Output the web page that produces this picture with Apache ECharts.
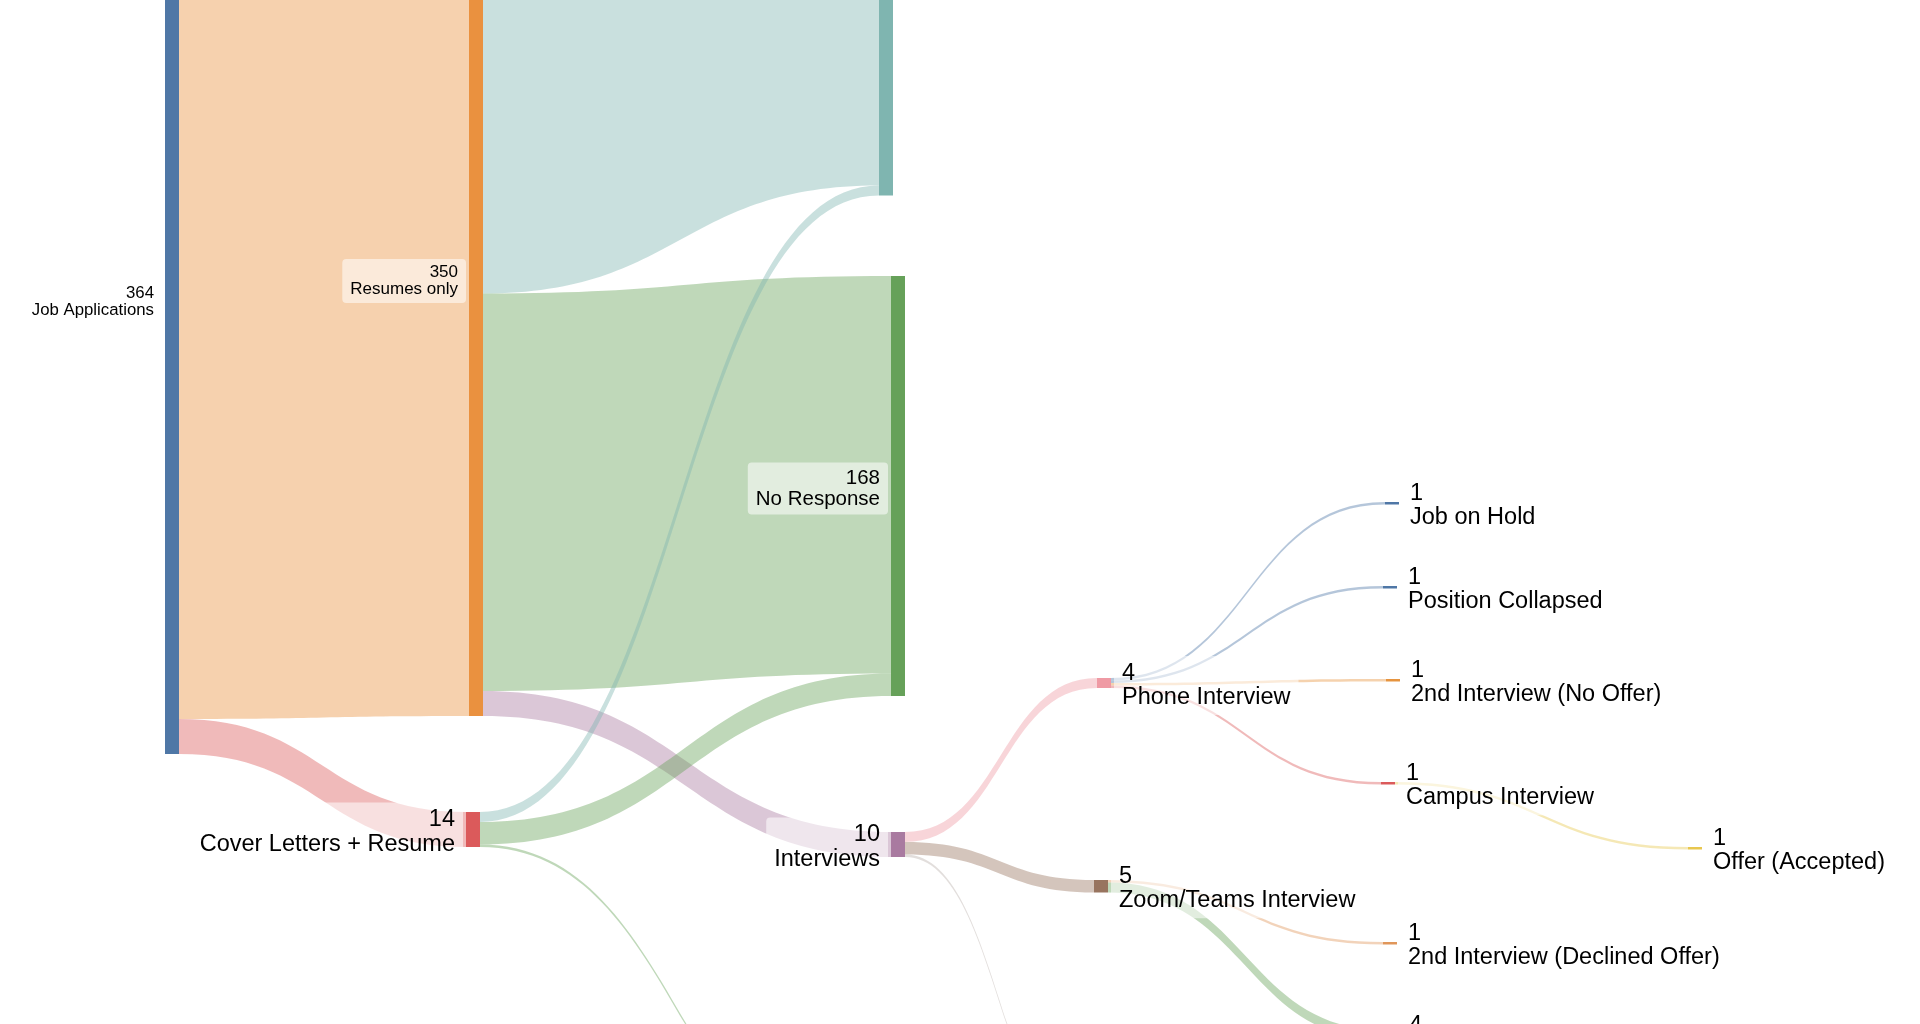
<!DOCTYPE html>
<html>
<head>
<meta charset="utf-8">
<script src="https://cdn.jsdelivr.net/npm/echarts@6/dist/echarts.min.js"></script>
<style>
html,body{margin:0;padding:0;background:#ffffff;overflow:hidden}
#chart{width:1920px;height:1024px}
</style>
</head>
<body>
<div id="chart"></div>
<script>
// ---------------- DATA ----------------
const nodeNames = [
  'Job Applications', 'Resumes only', 'Cover Letters + Resume',
  'Rejected', 'No Response', 'Interviews', 'Ghosted',
  'Phone Interview', 'Zoom/Teams Interview', 'No Decision',
  'Job on Hold', 'Position Collapsed', '2nd Interview (No Offer)', 'Campus Interview',
  '2nd Interview (Declined Offer)', 'Rejected After Interview',
  'Offer (Accepted)'
];
const nodeValues = [364, 350, 14, 185, 168, 10, 1, 4, 5, 1, 1, 1, 1, 1, 1, 4, 1];
const nodeDepths = [0, 1, 1, 2, 2, 2, 2, 3, 3, 3, 4, 4, 4, 4, 4, 4, 5];

const linkSources = [
  'Job Applications', 'Job Applications',
  'Resumes only', 'Resumes only', 'Resumes only',
  'Cover Letters + Resume', 'Cover Letters + Resume', 'Cover Letters + Resume',
  'Interviews', 'Interviews', 'Interviews',
  'Phone Interview', 'Phone Interview', 'Phone Interview', 'Phone Interview',
  'Zoom/Teams Interview', 'Zoom/Teams Interview',
  'Campus Interview'
];
const linkTargets = [
  'Resumes only', 'Cover Letters + Resume',
  'Rejected', 'No Response', 'Interviews',
  'Rejected', 'No Response', 'Ghosted',
  'Phone Interview', 'Zoom/Teams Interview', 'No Decision',
  'Job on Hold', 'Position Collapsed', '2nd Interview (No Offer)', 'Campus Interview',
  '2nd Interview (Declined Offer)', 'Rejected After Interview',
  'Offer (Accepted)'
];
const linkValues = [350, 14, 181, 159, 10, 4, 9, 1, 4, 5, 1, 1, 1, 1, 1, 1, 4, 1];

// ---------------- LAYOUT / STYLE (not data) ----------------
const LAYOUT_W = 1920, LAYOUT_H = 910;
// node placement (left, top) in pixels within the layout box
const nodePlacement = {
  'Job Applications': [165, -156],
  'Resumes only': [469, -159],
  'Cover Letters + Resume': [466, 812],
  'Rejected': [879, -267],
  'No Response': [891, 276],
  'Interviews': [891, 832],
  'Ghosted': [891, 1200],
  'Phone Interview': [1097, 678],
  'Zoom/Teams Interview': [1094, 880],
  'No Decision': [1095, 1148],
  'Job on Hold': [1385, 502],
  'Position Collapsed': [1383, 586],
  '2nd Interview (No Offer)': [1386, 679],
  'Campus Interview': [1381, 782],
  '2nd Interview (Declined Offer)': [1383, 942],
  'Rejected After Interview': [1384, 1030],
  'Offer (Accepted)': [1688, 847]
};
const nodeColors = {
  'Job Applications': '#4f77a6',
  'Resumes only': '#ea913f',
  'Cover Letters + Resume': '#db5a5b',
  'Rejected': '#7fb5b0',
  'No Response': '#66a159',
  'Interviews': '#a97aa0',
  'Ghosted': '#66a159',
  'Phone Interview': '#ef9aa4',
  'Zoom/Teams Interview': '#98745f',
  'No Decision': '#bab0ab',
  'Job on Hold': '#4f77a6',
  'Position Collapsed': '#4f77a6',
  '2nd Interview (No Offer)': '#e6943f',
  'Campus Interview': '#db5a5b',
  '2nd Interview (Declined Offer)': '#e0965a',
  'Rejected After Interview': '#66a159',
  'Offer (Accepted)': '#e8c74f'
};
const labelFont = {
  'Job Applications': [16.8, 17],
  'Resumes only': [17, 17],
  'No Response': [20.5, 21]
};

const nodesData = nodeNames.map(function (name, i) {
  const pos = nodePlacement[name];
  const f = labelFont[name] || [23.5, 24.5];
  return {
    name: name,
    value: nodeValues[i],
    depth: nodeDepths[i],
    localX: pos[0] / LAYOUT_W,
    localY: pos[1] / LAYOUT_H,
    itemStyle: { color: nodeColors[name], borderWidth: 0 },
    label: {
      position: nodeDepths[i] <= 2 ? 'left' : 'right',
      fontSize: f[0],
      lineHeight: f[1]
    }
  };
});
const linksData = linkSources.map(function (s, i) {
  return { source: s, target: linkTargets[i], value: linkValues[i] };
});

const chart = echarts.init(document.getElementById('chart'), null, { renderer: 'canvas' });
chart.setOption({
  animation: false,
  backgroundColor: '#ffffff',
  series: [{
    type: 'sankey',
    left: 0,
    top: 0,
    width: LAYOUT_W,
    height: LAYOUT_H,
    nodeWidth: 14,
    nodeGap: 0,
    nodeAlign: 'left',
    layoutIterations: 0,
    draggable: false,
    emphasis: { disabled: true },
    data: nodesData,
    links: linksData,
    itemStyle: { borderWidth: 0 },
    lineStyle: { color: 'target', opacity: 0.42, curveness: 0.5 },
    label: {
      show: true,
      distance: 3,
      offset: [0, 2.5],
      color: '#000000',
      fontFamily: '"Liberation Sans", Arial, Helvetica, sans-serif',
      backgroundColor: 'rgba(255,255,255,0.55)',
      borderRadius: 4,
      padding: [5, 8],
      formatter: function (p) { return p.value + '\n' + p.name; }
    }
  }]
});
</script>
</body>
</html>
